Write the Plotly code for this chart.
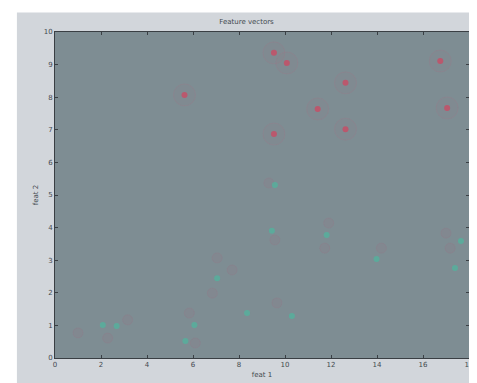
import plotly.graph_objects as go

# Data
red_x = [9.52, 10.08, 5.63, 16.75, 12.63, 11.42, 9.52, 12.63, 17.05]
red_y = [9.36, 9.05, 8.07, 9.11, 8.44, 7.64, 6.87, 7.02, 7.67]

teal_x = [9.56, 9.43, 11.81, 13.98, 17.65, 17.39, 10.30, 7.05, 2.08, 2.68, 6.06, 5.67, 8.35]
teal_y = [5.31, 3.90, 3.77, 3.04, 3.59, 2.76, 1.29, 2.45, 1.01, 0.98, 1.01, 0.52, 1.38]

faint_x = [7.05, 7.70, 6.84, 11.73, 11.90, 14.19, 17.00, 17.18, 1.00, 3.16, 2.29, 5.84, 6.10, 9.30, 9.65, 9.56]
faint_y = [3.07, 2.70, 1.99, 3.37, 4.14, 3.37, 3.83, 3.37, 0.77, 1.17, 0.61, 1.38, 0.46, 5.37, 1.69, 3.62]

x_ticks = [0, 2, 4, 6, 8, 10, 12, 14, 16, 18]
y_ticks = [0, 1, 2, 3, 4, 5, 6, 7, 8, 9, 10]

title_text = "Feature vectors"
x_label = "feat 1"
y_label = "feat 2"

fig = go.Figure()

# faint halos round red points
fig.add_trace(go.Scatter(
    x=red_x, y=red_y, mode="markers", hoverinfo="skip",
    marker=dict(size=22, color="rgba(150,120,135,0.12)",
                line=dict(color="rgba(165,115,135,0.25)", width=1)),
    showlegend=False))

# faint pink clutter
fig.add_trace(go.Scatter(
    x=faint_x, y=faint_y, mode="markers",
    marker=dict(size=10, color="rgba(150,115,135,0.18)",
                line=dict(color="rgba(160,110,130,0.2)", width=1)),
    showlegend=False))

fig.add_trace(go.Scatter(
    x=red_x, y=red_y, mode="markers",
    marker=dict(size=6, color="rgba(200,75,100,0.8)"),
    showlegend=False))

fig.add_trace(go.Scatter(
    x=teal_x, y=teal_y, mode="markers",
    marker=dict(size=6, color="rgba(70,190,160,0.6)"),
    showlegend=False))

axis_common = dict(
    showgrid=False, zeroline=False, showline=True, linecolor="#3a3f44",
    linewidth=1, mirror="ticks", ticks="inside", ticklen=3, tickcolor="#3a3f44",
    tickfont=dict(family="DejaVu Sans", size=7, color="#444a50"),
)

fig.update_layout(
    width=477, height=383,
    margin=dict(l=47, r=14, t=24, b=33),
    paper_bgcolor="white",
    plot_bgcolor="#7e8d93",
    title=dict(text=title_text, x=0.5, xanchor="center", y=0.965, yanchor="middle",
               font=dict(family="DejaVu Sans", size=7, color="#444a50")),
    xaxis=dict(range=[0, 18], tickvals=x_ticks, **axis_common,
               title=dict(text=x_label, standoff=3,
                          font=dict(family="DejaVu Sans", size=7, color="#444a50"))),
    yaxis=dict(range=[0, 10], tickvals=y_ticks, **axis_common,
               title=dict(text=y_label, standoff=4,
                          font=dict(family="DejaVu Sans", size=7, color="#444a50"))),
    shapes=[dict(type="rect", xref="paper", yref="paper", layer="below",
                 x0=-0.092, x1=1.024, y0=-0.088, y1=1.06,
                 fillcolor="#d2d6db", line=dict(width=0)),
            dict(type="rect", xref="paper", yref="paper", layer="below",
                 x0=0, x1=1, y0=0, y1=1,
                 fillcolor="#7e8d93", line=dict(width=0))],
)

fig.write_html("out.html")
